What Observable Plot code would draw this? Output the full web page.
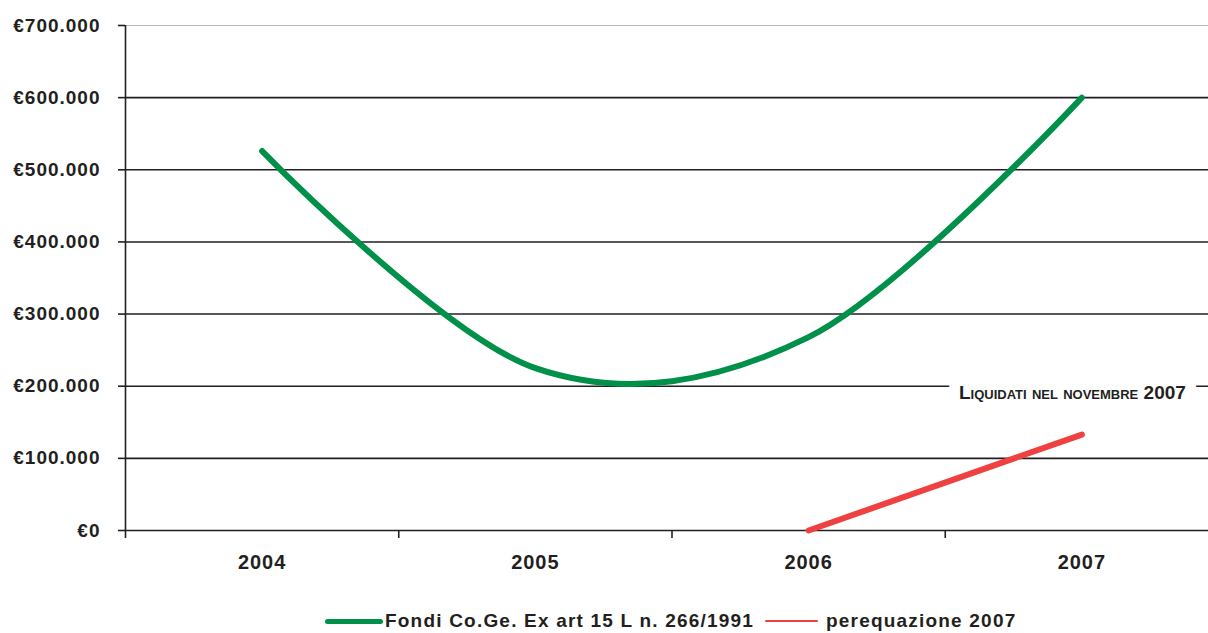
<!DOCTYPE html>
<html>
<head>
<meta charset="utf-8">
<script src="https://cdn.jsdelivr.net/npm/d3@7"></script>
<script src="https://cdn.jsdelivr.net/npm/@observablehq/plot@0.6"></script>
<style>
  html, body { margin: 0; padding: 0; background: #fff; overflow: hidden; }
  body { width: 1208px; height: 633px; font-family: "Liberation Sans", Arial, sans-serif; }
  #chart svg { display: block; }
  #chart g[aria-label="y-axis tick label"] text { letter-spacing: 1px; }
  #chart g[aria-label="x-axis tick label"] text { letter-spacing: 1px; }
  #legend { position: absolute; left: 0; top: 600px; width: 1208px; height: 33px; font-weight: bold; font-size: 19px; letter-spacing: 1.2px; color: #231f20; }
  .item { position: absolute; top: 10px; display: flex; align-items: center; white-space: nowrap; }
  .sw { display: inline-block; }
</style>
</head>
<body>
<div id="chart"></div>
<div id="legend"></div>
<script>
const years = [2004, 2005, 2006, 2007];
const fondiValues = [526000, 225000, 268000, 600000];
const pereqYears = [2006, 2007];
const pereqValues = [0, 133000];
const yTicks = [0, 100000, 200000, 300000, 400000, 500000, 600000, 700000];
const seriesNames = ["Fondi Co.Ge. Ex art 15 L n. 266/1991", "perequazione 2007"];
const seriesColors = ["#00904a", "#ef4141"];
const annotation = ["Liquidati nel novembre 2007"];
const annotationAt = [{x: 2006.55, y: 191000}];

const fondi = years.map((y, i) => ({year: y, value: fondiValues[i]}));
const pereq = pereqYears.map((y, i) => ({year: y, value: pereqValues[i]}));
const bounds = [2003.5, 2004.5, 2005.5, 2006.5, 2007.5];
const ink = "#231f20";
const euro = v => "€" + d3.format(",")(v).replace(/,/g, ".");

const chart = Plot.plot({
  width: 1208,
  height: 600,
  marginLeft: 125,
  marginRight: 0,
  marginTop: 25,
  marginBottom: 70,
  style: {fontFamily: "'Liberation Sans', Arial, sans-serif", fontWeight: "bold", color: ink, background: "#fff"},
  x: {domain: [2003.5, 2007.5], range: [125, 1218]},
  y: {domain: [0, 700000], range: [530, 25]},
  marks: [
    Plot.ruleY(yTicks.filter(d => d > 0 && d < 700000), {stroke: ink, strokeWidth: 1.6}),
    Plot.ruleY([700000], {stroke: "#bbbbbb", strokeWidth: 1.2}),
    Plot.ruleY([0], {stroke: ink, strokeWidth: 1.6}),
    Plot.ruleX([2003.5], {y1: 0, y2: 700000, stroke: ink, strokeWidth: 1.6}),
    Plot.axisY({ticks: yTicks, tickFormat: euro, tickSize: 7, tickPadding: 18, stroke: ink, strokeWidth: 1.6, fontSize: 19, label: null, fill: ink}),
    Plot.axisX({ticks: bounds, tickFormat: () => "", tickSize: 8, stroke: ink, strokeWidth: 1.6, label: null}),
    Plot.axisX({ticks: years, tickFormat: d => String(d), tickSize: 0, tickPadding: 24, fontSize: 20, label: null, fill: ink}),
    Plot.text(annotation, {x: annotationAt.map(d => d.x), y: annotationAt.map(d => d.y), text: d => d, fontVariant: "small-caps", fontSize: 19, fontWeight: "bold", fill: ink, stroke: "white", strokeWidth: 22, paintOrder: "stroke", textAnchor: "start"}),
    Plot.line(fondi, {x: "year", y: "value", stroke: seriesColors[0], strokeWidth: 6, curve: "cardinal"}),
    Plot.line(pereq, {x: "year", y: "value", stroke: seriesColors[1], strokeWidth: 6})
  ]
});
document.getElementById("chart").appendChild(chart);

const legend = document.getElementById("legend");
const lx = [325, 765];
const lw = [58, 53];
const lh = [5, 2];
seriesNames.forEach((name, i) => {
  const it = document.createElement("div");
  it.className = "item";
  it.style.left = lx[i] + "px";
  const sw = document.createElement("span");
  sw.className = "sw";
  sw.style.width = lw[i] + "px";
  sw.style.height = lh[i] + "px";
  sw.style.background = seriesColors[i];
  sw.style.borderRadius = "3px";
  sw.style.marginRight = (i === 0 ? 2 : 8) + "px";
  const t = document.createElement("span");
  t.textContent = name;
  it.appendChild(sw);
  it.appendChild(t);
  legend.appendChild(it);
});
</script>
</body>
</html>
